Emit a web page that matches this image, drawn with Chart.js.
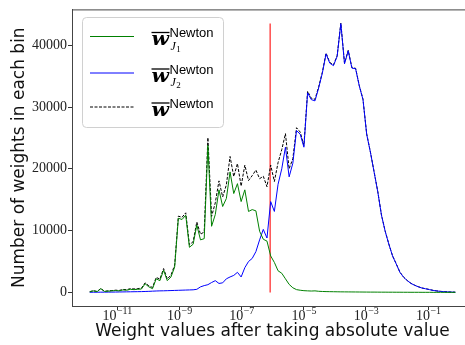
<!DOCTYPE html>
<html>
<head>
<meta charset="utf-8">
<script src="https://cdn.jsdelivr.net/npm/chart.js@4/dist/chart.umd.min.js"></script>
<style>
  html, body { margin: 0; padding: 0; background: #fff; overflow: hidden; }
  #wrap { width: 465px; height: 345px; overflow: hidden; }
</style>
</head>
<body>
<div id="wrap"><canvas id="chart" width="475" height="345"></canvas></div>
<script>
// histogram bins, log10 of |w|
const binStart = -11.88;
const binStep = 0.1187;

// counts per bin for the two groups of weights
const greenCounts = [
  100, 250, 120, 600, 150, 200, 250, 300, 250, 400,
  350, 500, 450, 500, 550, 1400, 900, 600, 2200, 1900,
  3600, 1900, 2500, 4100, 12000, 11800, 12500, 7300, 7800, 10900,
  8500, 8700, 23800, 10700, 12600, 16600, 13900, 15200, 19500, 16000,
  17600, 14700, 16600, 13100, 13400, 13200, 9900, 8600, 8300, 5900,
  4850, 3500, 3100, 2200, 1300, 750, 450, 350, 280, 250,
  220, 250, 180, 150, 130, 120, 110, 100, 90, 85,
  80, 75, 70, 65, 60, 55, 50, 50, 45, 40,
  40, 35, 35, 30, 30, 25, 25, 20, 20, 20,
  15, 15, 15, 10, 10, 10, 10, 5, 5, 5
];
const blueCounts = [
  20, 30, 30, 40, 40, 50, 50, 60, 70, 80,
  90, 100, 110, 120, 130, 150, 170, 200, 230, 250,
  260, 280, 300, 320, 340, 360, 380, 400, 420, 500,
  900, 1100, 1250, 1600, 1900, 1450, 1550, 2200, 2500, 2750,
  3250, 2500, 4000, 5000, 5500, 6600, 8500, 10200, 8800, 14700,
  13100, 17500, 20000, 23500, 18700, 20900, 26200, 25600, 23500, 32300,
  31200, 31000, 33100, 35500, 38600, 37100, 36700, 38200, 43500, 37000,
  39100, 36300, 36200, 33400, 31200, 25600, 22700, 19500, 16300, 12500,
  9900, 7800, 5900, 4600, 3250, 2450, 1900, 1450, 1150, 900,
  700, 580, 450, 320, 230, 160, 110, 80, 50, 30
];

const thresholdX = Math.pow(10, -6.08);
const thresholdTop = 43500;

const yTicks = [0, 10000, 20000, 30000, 40000];
const xTickExps = [-11, -9, -7, -5, -3, -1];

const binX = greenCounts.map((_, i) => Math.pow(10, binStart + i * binStep));
const pts = arr => arr.map((v, i) => ({ x: binX[i], y: v }));
const totalCounts = greenCounts.map((v, i) => v + blueCounts[i]);

const tickFont = '"Liberation Serif", serif';
const labelFont = '"DejaVu Sans", sans-serif';

// spines, x tick labels with exponents, and the legend
const extras = {
  id: 'extras',
  afterDraw(chart) {
    const ctx = chart.ctx;
    const a = chart.chartArea;
    const xs = chart.scales.x;
    ctx.save();
    ctx.strokeStyle = '#444';
    ctx.lineWidth = 1;
    ctx.beginPath();
    ctx.moveTo(a.left, a.top + 0.5);
    ctx.lineTo(a.right, a.top + 0.5);
    ctx.lineTo(a.right, a.bottom);
    ctx.stroke();

    ctx.fillStyle = '#222';
    ctx.textBaseline = 'alphabetic';
    ctx.textAlign = 'left';
    xTickExps.forEach(e => {
      const px = xs.getPixelForValue(Math.pow(10, e));
      const exp = '\u2212' + Math.abs(e);
      ctx.font = '14px ' + tickFont;
      const w1 = ctx.measureText('10').width;
      ctx.font = '10px ' + tickFont;
      const w2 = ctx.measureText(exp).width;
      const x0 = px - (w1 + w2) / 2;
      ctx.font = '14px ' + tickFont;
      ctx.fillText('10', x0, 320);
      ctx.font = '10px ' + tickFont;
      ctx.fillText(exp, x0 + w1 + 0.5, 314);
    });

    // legend
    ctx.fillStyle = 'rgba(255,255,255,0.8)';
    ctx.strokeStyle = '#d0d0d0';
    ctx.beginPath();
    ctx.roundRect(82.5, 17.5, 141, 110, 4);
    ctx.fill();
    ctx.stroke();

    const items = [
      { y: 36.5, color: '#008000', dash: [], sub: '1' },
      { y: 73, color: '#0000ff', dash: [], sub: '2' },
      { y: 107, color: '#000', dash: [3, 1.5], sub: null }
    ];
    items.forEach(it => {
      ctx.strokeStyle = it.color;
      ctx.lineWidth = 1;
      ctx.setLineDash(it.dash);
      ctx.beginPath();
      ctx.moveTo(90, it.y);
      ctx.lineTo(134, it.y);
      ctx.stroke();
      ctx.setLineDash([]);

      ctx.fillStyle = '#000';
      ctx.font = 'bold italic 19px "DejaVu Serif", serif';
      const ww = ctx.measureText('w').width;
      ctx.save();
      ctx.translate(151.5, it.y + 8.5);
      ctx.scale(17.5 / ww, 1);
      ctx.fillText('w', 0, 0);
      ctx.restore();
      ctx.lineWidth = 1.3;
      ctx.strokeStyle = '#000';
      ctx.beginPath();
      ctx.moveTo(151.5, it.y - 4);
      ctx.lineTo(169.5, it.y - 4);
      ctx.stroke();

      ctx.font = '13px "Liberation Sans", sans-serif';
      ctx.fillText('Newton', 169.5, it.y + 0.5);
      if (it.sub) {
        ctx.font = 'italic 12px ' + tickFont;
        ctx.fillText('J', 170.5, it.y + 13);
        const jw = ctx.measureText('J').width;
        ctx.font = '9px ' + tickFont;
        ctx.fillText(it.sub, 170.5 + jw + 0.5, it.y + 15);
      }
    });
    ctx.restore();
  }
};

new Chart(document.getElementById('chart'), {
  type: 'line',
  data: {
    datasets: [
      { data: pts(greenCounts), borderColor: '#008000', borderWidth: 1 },
      { data: pts(blueCounts), borderColor: '#0000ff', borderWidth: 1 },
      { data: pts(totalCounts), borderColor: '#000', borderWidth: 1, borderDash: [3, 1.5] },
      {
        data: [{ x: thresholdX, y: 0 }, { x: thresholdX, y: thresholdTop }],
        borderColor: 'rgba(255,30,30,0.85)', borderWidth: 1.4
      }
    ]
  },
  options: {
    responsive: false,
    animation: false,
    devicePixelRatio: 1,
    parsing: false,
    elements: { point: { radius: 0 }, line: { tension: 0 } },
    layout: { padding: { top: 6, right: 2, left: 0, bottom: 0 } },
    plugins: { legend: { display: false }, tooltip: { enabled: false } },
    scales: {
      x: {
        type: 'logarithmic',
        min: Math.pow(10, -12.45),
        max: Math.pow(10, 0.44),
        afterBuildTicks: s => { s.ticks = xTickExps.map(e => ({ value: Math.pow(10, e) })); },
        afterFit: s => { s.height = 39; },
        ticks: { display: false },
        grid: { drawOnChartArea: false, tickLength: 4, color: '#333' },
        border: { color: '#444', width: 1 },
        title: {
          display: true,
          text: 'Weight values after taking absolute value',
          font: { family: labelFont, size: 17 },
          color: '#111',
          padding: { top: 0, bottom: 3 }
        }
      },
      y: {
        min: -2200,
        max: 45800,
        afterBuildTicks: s => { s.ticks = yTicks.map(v => ({ value: v })); },
        afterFit: s => { s.width = 72; },
        ticks: {
          font: { family: tickFont, size: 14 }, color: '#222', padding: 1, autoSkip: false,
          callback: v => String(v)
        },
        grid: { drawOnChartArea: false, tickLength: 4, color: '#333' },
        border: { color: '#444', width: 1 },
        title: {
          display: true,
          text: 'Number of weights in each bin',
          font: { family: labelFont, size: 17 },
          color: '#111',
          padding: { top: 9, bottom: 0 }
        }
      }
    }
  },
  plugins: [extras]
});
</script>
</body>
</html>
